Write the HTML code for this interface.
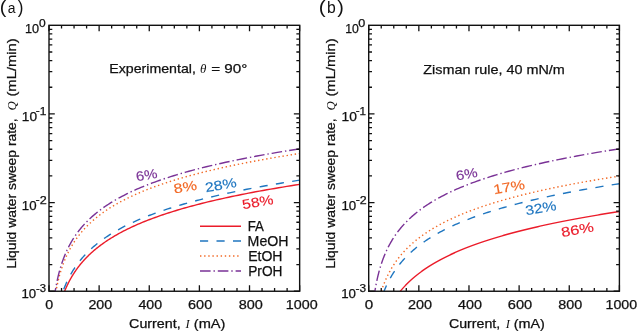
<!DOCTYPE html>
<html><head><meta charset="utf-8"><style>
html,body{margin:0;padding:0;background:#fff;width:637px;height:331px;overflow:hidden}
svg{display:block;will-change:transform}
text{font-family:"Liberation Sans", sans-serif}
</style></head><body>
<svg width="637" height="331" viewBox="0 0 637 331">
<rect width="637" height="331" fill="#fff"/>
<clipPath id="c0"><rect x="49.0" y="25.3" width="250.65" height="265.95"/></clipPath>
<path d="M64.15,292.42L64.42,291.75L64.69,291.07L64.97,290.40L65.25,289.72L65.54,289.05L65.83,288.37L66.13,287.70L66.43,287.02L66.74,286.35L67.05,285.67L67.37,285.00L67.70,284.32L68.03,283.64L68.36,282.97L68.71,282.29L69.06,281.62L69.41,280.94L69.77,280.27L70.14,279.59L70.51,278.92L70.89,278.24L71.28,277.57L71.68,276.89L72.08,276.22L72.48,275.54L72.90,274.87L73.32,274.19L73.75,273.52L74.19,272.84L74.64,272.17L75.09,271.49L75.55,270.82L76.02,270.14L76.50,269.46L76.99,268.79L77.48,268.11L77.99,267.44L78.50,266.76L79.02,266.09L79.55,265.41L80.09,264.74L80.64,264.06L81.20,263.39L81.77,262.71L82.35,262.04L82.94,261.36L83.54,260.69L84.15,260.01L84.78,259.34L85.41,258.66L86.05,257.99L86.71,257.31L87.38,256.64L88.06,255.96L88.75,255.28L89.45,254.61L90.16,253.93L90.89,253.26L91.63,252.58L92.39,251.91L93.16,251.23L93.94,250.56L94.73,249.88L95.54,249.21L96.37,248.53L97.20,247.86L98.06,247.18L98.92,246.51L99.81,245.83L100.71,245.16L101.62,244.48L102.55,243.81L103.50,243.13L104.46,242.46L105.45,241.78L106.44,241.10L107.46,240.43L108.50,239.75L109.55,239.08L110.62,238.40L111.71,237.73L112.82,237.05L113.95,236.38L115.10,235.70L116.27,235.03L117.46,234.35L118.67,233.68L119.90,233.00L121.16,232.33L122.43,231.65L123.73,230.98L125.05,230.30L126.40,229.63L127.77,228.95L129.16,228.28L130.58,227.60L132.02,226.92L133.49,226.25L134.99,225.57L136.51,224.90L138.06,224.22L139.63,223.55L141.24,222.87L142.87,222.20L144.53,221.52L146.22,220.85L147.94,220.17L149.69,219.50L151.47,218.82L153.29,218.15L155.13,217.47L157.01,216.80L158.92,216.12L160.86,215.45L162.84,214.77L164.86,214.10L166.91,213.42L168.99,212.74L171.12,212.07L173.28,211.39L175.48,210.72L177.71,210.04L179.99,209.37L182.31,208.69L184.67,208.02L187.07,207.34L189.51,206.67L192.00,205.99L194.53,205.32L197.10,204.64L199.72,203.97L202.39,203.29L205.10,202.62L207.87,201.94L210.68,201.27L213.54,200.59L216.45,199.92L219.41,199.24L222.43,198.56L225.49,197.89L228.62,197.21L231.79,196.54L235.03,195.86L238.32,195.19L241.67,194.51L245.08,193.84L248.55,193.16L252.08,192.49L255.67,191.81L259.33,191.14L263.05,190.46L266.84,189.79L270.69,189.11L274.61,188.44L278.61,187.76L282.67,187.09L286.80,186.41L291.01,185.74L295.29,185.06L299.65,184.38" fill="none" stroke="#eb1c2a" stroke-width="1.4" clip-path="url(#c0)"/>
<path d="M62.58,292.42L62.83,291.72L63.09,291.02L63.35,290.32L63.61,289.62L63.88,288.92L64.15,288.21L64.43,287.51L64.71,286.81L65.00,286.11L65.30,285.41L65.60,284.71L65.90,284.00L66.21,283.30L66.53,282.60L66.85,281.90L67.18,281.20L67.51,280.50L67.85,279.80L68.20,279.09L68.55,278.39L68.91,277.69L69.28,276.99L69.65,276.29L70.03,275.59L70.42,274.89L70.81,274.18L71.21,273.48L71.62,272.78L72.04,272.08L72.46,271.38L72.89,270.68L73.33,269.98L73.78,269.27L74.24,268.57L74.70,267.87L75.17,267.17L75.65,266.47L76.14,265.77L76.64,265.06L77.15,264.36L77.67,263.66L78.20,262.96L78.73,262.26L79.28,261.56L79.84,260.86L80.40,260.15L80.98,259.45L81.57,258.75L82.17,258.05L82.78,257.35L83.40,256.65L84.03,255.95L84.68,255.24L85.33,254.54L86.00,253.84L86.68,253.14L87.37,252.44L88.08,251.74L88.80,251.03L89.53,250.33L90.27,249.63L91.03,248.93L91.81,248.23L92.59,247.53L93.39,246.83L94.21,246.12L95.04,245.42L95.89,244.72L96.75,244.02L97.63,243.32L98.52,242.62L99.43,241.92L100.36,241.21L101.31,240.51L102.27,239.81L103.25,239.11L104.24,238.41L105.26,237.71L106.29,237.01L107.35,236.30L108.42,235.60L109.51,234.90L110.63,234.20L111.76,233.50L112.91,232.80L114.09,232.09L115.29,231.39L116.50,230.69L117.75,229.99L119.01,229.29L120.30,228.59L121.61,227.89L122.94,227.18L124.30,226.48L125.69,225.78L127.10,225.08L128.53,224.38L130.00,223.68L131.48,222.98L133.00,222.27L134.55,221.57L136.12,220.87L137.72,220.17L139.35,219.47L141.01,218.77L142.71,218.06L144.43,217.36L146.18,216.66L147.97,215.96L149.79,215.26L151.64,214.56L153.53,213.86L155.45,213.15L157.41,212.45L159.40,211.75L161.43,211.05L163.50,210.35L165.61,209.65L167.75,208.95L169.93,208.24L172.16,207.54L174.42,206.84L176.73,206.14L179.08,205.44L181.47,204.74L183.90,204.04L186.38,203.33L188.91,202.63L191.48,201.93L194.10,201.23L196.77,200.53L199.49,199.83L202.26,199.12L205.07,198.42L207.94,197.72L210.87,197.02L213.84,196.32L216.87,195.62L219.96,194.92L223.10,194.21L226.30,193.51L229.56,192.81L232.89,192.11L236.27,191.41L239.71,190.71L243.22,190.01L246.79,189.30L250.42,188.60L254.13,187.90L257.90,187.20L261.74,186.50L265.65,185.80L269.64,185.09L273.69,184.39L277.82,183.69L282.03,182.99L286.32,182.29L290.68,181.59L295.12,180.89L299.65,180.18" fill="none" stroke="#1f76c0" stroke-width="1.4" stroke-dasharray="8.15 8.35" stroke-dashoffset="13.25" clip-path="url(#c0)"/>
<path d="M55.79,292.42L55.95,291.55L56.10,290.69L56.27,289.82L56.43,288.95L56.60,288.08L56.78,287.21L56.95,286.34L57.13,285.48L57.32,284.61L57.51,283.74L57.70,282.87L57.90,282.00L58.11,281.14L58.31,280.27L58.53,279.40L58.74,278.53L58.96,277.66L59.19,276.79L59.42,275.93L59.66,275.06L59.91,274.19L60.15,273.32L60.41,272.45L60.67,271.58L60.93,270.72L61.21,269.85L61.49,268.98L61.77,268.11L62.06,267.24L62.36,266.37L62.66,265.51L62.98,264.64L63.29,263.77L63.62,262.90L63.95,262.03L64.30,261.16L64.64,260.30L65.00,259.43L65.37,258.56L65.74,257.69L66.12,256.82L66.51,255.96L66.91,255.09L67.32,254.22L67.74,253.35L68.16,252.48L68.60,251.61L69.05,250.75L69.51,249.88L69.97,249.01L70.45,248.14L70.94,247.27L71.44,246.40L71.95,245.54L72.48,244.67L73.01,243.80L73.56,242.93L74.12,242.06L74.69,241.19L75.28,240.33L75.88,239.46L76.49,238.59L77.12,237.72L77.76,236.85L78.42,235.98L79.09,235.12L79.77,234.25L80.48,233.38L81.19,232.51L81.93,231.64L82.68,230.77L83.45,229.91L84.23,229.04L85.04,228.17L85.86,227.30L86.70,226.43L87.56,225.57L88.44,224.70L89.34,223.83L90.26,222.96L91.20,222.09L92.16,221.22L93.15,220.36L94.15,219.49L95.18,218.62L96.24,217.75L97.31,216.88L98.42,216.01L99.54,215.15L100.70,214.28L101.88,213.41L103.08,212.54L104.31,211.67L105.58,210.80L106.87,209.94L108.19,209.07L109.54,208.20L110.92,207.33L112.33,206.46L113.77,205.59L115.25,204.73L116.76,203.86L118.31,202.99L119.89,202.12L121.51,201.25L123.16,200.39L124.85,199.52L126.58,198.65L128.35,197.78L130.16,196.91L132.01,196.04L133.91,195.18L135.84,194.31L137.82,193.44L139.85,192.57L141.92,191.70L144.04,190.83L146.21,189.97L148.42,189.10L150.69,188.23L153.01,187.36L155.38,186.49L157.81,185.62L160.29,184.76L162.83,183.89L165.43,183.02L168.08,182.15L170.80,181.28L173.58,180.41L176.42,179.55L179.33,178.68L182.30,177.81L185.34,176.94L188.45,176.07L191.63,175.21L194.88,174.34L198.21,173.47L201.61,172.60L205.09,171.73L208.65,170.86L212.30,170.00L216.02,169.13L219.83,168.26L223.73,167.39L227.71,166.52L231.79,165.65L235.96,164.79L240.22,163.92L244.58,163.05L249.04,162.18L253.61,161.31L258.27,160.44L263.05,159.58L267.93,158.71L272.92,157.84L278.03,156.97L283.25,156.10L288.60,155.23L294.06,154.37L299.65,153.50" fill="none" stroke="#f26824" stroke-width="1.4" stroke-dasharray="1.4 2.73" stroke-dashoffset="0.0" clip-path="url(#c0)"/>
<path d="M55.02,292.42L55.16,291.53L55.31,290.63L55.45,289.73L55.61,288.83L55.76,287.94L55.92,287.04L56.08,286.14L56.25,285.24L56.42,284.35L56.60,283.45L56.78,282.55L56.96,281.65L57.15,280.76L57.34,279.86L57.54,278.96L57.74,278.06L57.94,277.17L58.16,276.27L58.37,275.37L58.59,274.48L58.82,273.58L59.05,272.68L59.29,271.78L59.53,270.89L59.78,269.99L60.03,269.09L60.29,268.19L60.56,267.30L60.83,266.40L61.11,265.50L61.40,264.60L61.69,263.71L61.99,262.81L62.29,261.91L62.61,261.01L62.93,260.12L63.26,259.22L63.59,258.32L63.94,257.43L64.29,256.53L64.65,255.63L65.02,254.73L65.40,253.84L65.78,252.94L66.18,252.04L66.58,251.14L67.00,250.25L67.42,249.35L67.86,248.45L68.30,247.55L68.76,246.66L69.22,245.76L69.70,244.86L70.19,243.96L70.69,243.07L71.20,242.17L71.72,241.27L72.26,240.38L72.81,239.48L73.37,238.58L73.94,237.68L74.53,236.79L75.13,235.89L75.75,234.99L76.38,234.09L77.03,233.20L77.69,232.30L78.36,231.40L79.05,230.50L79.76,229.61L80.49,228.71L81.23,227.81L81.99,226.92L82.77,226.02L83.57,225.12L84.38,224.22L85.22,223.33L86.07,222.43L86.94,221.53L87.84,220.63L88.75,219.74L89.69,218.84L90.65,217.94L91.63,217.04L92.64,216.15L93.67,215.25L94.72,214.35L95.80,213.45L96.90,212.56L98.03,211.66L99.19,210.76L100.37,209.87L101.58,208.97L102.82,208.07L104.09,207.17L105.39,206.28L106.72,205.38L108.08,204.48L109.48,203.58L110.90,202.69L112.36,201.79L113.86,200.89L115.39,199.99L116.95,199.10L118.55,198.20L120.19,197.30L121.87,196.40L123.59,195.51L125.35,194.61L127.15,193.71L128.99,192.82L130.88,191.92L132.81,191.02L134.79,190.12L136.81,189.23L138.88,188.33L141.00,187.43L143.17,186.53L145.39,185.64L147.67,184.74L149.99,183.84L152.37,182.94L154.81,182.05L157.31,181.15L159.86,180.25L162.48,179.35L165.15,178.46L167.89,177.56L170.69,176.66L173.56,175.77L176.50,174.87L179.51,173.97L182.59,173.07L185.74,172.18L188.96,171.28L192.26,170.38L195.64,169.48L199.10,168.59L202.64,167.69L206.26,166.79L209.97,165.89L213.76,165.00L217.65,164.10L221.63,163.20L225.70,162.30L229.86,161.41L234.13,160.51L238.49,159.61L242.96,158.72L247.54,157.82L252.22,156.92L257.01,156.02L261.92,155.13L266.94,154.23L272.08,153.33L277.34,152.43L282.72,151.54L288.23,150.64L293.88,149.74L299.65,148.84" fill="none" stroke="#7a3296" stroke-width="1.4" stroke-dasharray="10.6 2.9 1.4 2.9" stroke-dashoffset="6.09" clip-path="url(#c0)"/>
<path d="M49.00,291.25v-6.0M49.00,25.3v6.0M61.53,291.25v-3.3M61.53,25.3v3.3M74.06,291.25v-3.3M74.06,25.3v3.3M86.60,291.25v-3.3M86.60,25.3v3.3M99.13,291.25v-6.0M99.13,25.3v6.0M111.66,291.25v-3.3M111.66,25.3v3.3M124.19,291.25v-3.3M124.19,25.3v3.3M136.73,291.25v-3.3M136.73,25.3v3.3M149.26,291.25v-6.0M149.26,25.3v6.0M161.79,291.25v-3.3M161.79,25.3v3.3M174.32,291.25v-3.3M174.32,25.3v3.3M186.86,291.25v-3.3M186.86,25.3v3.3M199.39,291.25v-6.0M199.39,25.3v6.0M211.92,291.25v-3.3M211.92,25.3v3.3M224.45,291.25v-3.3M224.45,25.3v3.3M236.99,291.25v-3.3M236.99,25.3v3.3M249.52,291.25v-6.0M249.52,25.3v6.0M262.05,291.25v-3.3M262.05,25.3v3.3M274.58,291.25v-3.3M274.58,25.3v3.3M287.12,291.25v-3.3M287.12,25.3v3.3M299.65,291.25v-6.0M299.65,25.3v6.0M49.0,113.95h5.8M299.65,113.95h-5.8M49.0,87.26h3.3M299.65,87.26h-3.3M49.0,71.65h3.3M299.65,71.65h-3.3M49.0,60.58h3.3M299.65,60.58h-3.3M49.0,51.99h3.3M299.65,51.99h-3.3M49.0,44.97h3.3M299.65,44.97h-3.3M49.0,39.03h3.3M299.65,39.03h-3.3M49.0,33.89h3.3M299.65,33.89h-3.3M49.0,29.36h3.3M299.65,29.36h-3.3M49.0,202.60h5.8M299.65,202.60h-5.8M49.0,175.91h3.3M299.65,175.91h-3.3M49.0,160.30h3.3M299.65,160.30h-3.3M49.0,149.23h3.3M299.65,149.23h-3.3M49.0,140.64h3.3M299.65,140.64h-3.3M49.0,133.62h3.3M299.65,133.62h-3.3M49.0,127.68h3.3M299.65,127.68h-3.3M49.0,122.54h3.3M299.65,122.54h-3.3M49.0,118.01h3.3M299.65,118.01h-3.3M49.0,291.25h5.8M299.65,291.25h-5.8M49.0,264.56h3.3M299.65,264.56h-3.3M49.0,248.95h3.3M299.65,248.95h-3.3M49.0,237.88h3.3M299.65,237.88h-3.3M49.0,229.29h3.3M299.65,229.29h-3.3M49.0,222.27h3.3M299.65,222.27h-3.3M49.0,216.33h3.3M299.65,216.33h-3.3M49.0,211.19h3.3M299.65,211.19h-3.3M49.0,206.66h3.3M299.65,206.66h-3.3" stroke="#111" stroke-width="1.3" fill="none"/>
<rect x="49.0" y="25.3" width="250.65" height="265.95" fill="none" stroke="#111" stroke-width="1.4"/>
<clipPath id="c1"><rect x="368.7" y="25.3" width="250.70" height="265.95"/></clipPath>
<path d="M399.37,292.42L399.77,291.92L400.18,291.41L400.60,290.91L401.02,290.40L401.45,289.89L401.88,289.39L402.32,288.88L402.76,288.38L403.21,287.87L403.67,287.37L404.13,286.86L404.60,286.36L405.07,285.85L405.56,285.34L406.04,284.84L406.54,284.33L407.04,283.83L407.54,283.32L408.06,282.82L408.58,282.31L409.10,281.81L409.64,281.30L410.18,280.79L410.73,280.29L411.28,279.78L411.85,279.28L412.42,278.77L412.99,278.27L413.58,277.76L414.17,277.26L414.77,276.75L415.38,276.24L416.00,275.74L416.62,275.23L417.26,274.73L417.90,274.22L418.55,273.72L419.21,273.21L419.88,272.70L420.55,272.20L421.24,271.69L421.93,271.19L422.64,270.68L423.35,270.18L424.07,269.67L424.80,269.17L425.55,268.66L426.30,268.15L427.06,267.65L427.83,267.14L428.61,266.64L429.40,266.13L430.21,265.63L431.02,265.12L431.84,264.62L432.68,264.11L433.52,263.60L434.38,263.10L435.25,262.59L436.13,262.09L437.02,261.58L437.92,261.08L438.84,260.57L439.76,260.07L440.70,259.56L441.66,259.05L442.62,258.55L443.60,258.04L444.59,257.54L445.59,257.03L446.61,256.53L447.64,256.02L448.68,255.52L449.74,255.01L450.81,254.50L451.89,254.00L452.99,253.49L454.11,252.99L455.24,252.48L456.38,251.98L457.54,251.47L458.71,250.96L459.90,250.46L461.11,249.95L462.33,249.45L463.57,248.94L464.82,248.44L466.09,247.93L467.38,247.43L468.69,246.92L470.01,246.41L471.35,245.91L472.70,245.40L474.08,244.90L475.47,244.39L476.88,243.89L478.31,243.38L479.76,242.88L481.23,242.37L482.72,241.86L484.22,241.36L485.75,240.85L487.30,240.35L488.87,239.84L490.45,239.34L492.06,238.83L493.69,238.33L495.35,237.82L497.02,237.31L498.72,236.81L500.43,236.30L502.18,235.80L503.94,235.29L505.73,234.79L507.54,234.28L509.37,233.78L511.23,233.27L513.12,232.76L515.03,232.26L516.96,231.75L518.92,231.25L520.91,230.74L522.92,230.24L524.96,229.73L527.02,229.22L529.12,228.72L531.24,228.21L533.38,227.71L535.56,227.20L537.77,226.70L540.00,226.19L542.27,225.69L544.56,225.18L546.89,224.67L549.24,224.17L551.63,223.66L554.05,223.16L556.50,222.65L558.98,222.15L561.49,221.64L564.04,221.14L566.62,220.63L569.24,220.12L571.89,219.62L574.58,219.11L577.30,218.61L580.06,218.10L582.85,217.60L585.68,217.09L588.55,216.59L591.45,216.08L594.40,215.57L597.38,215.07L600.41,214.56L603.47,214.06L606.57,213.55L609.72,213.05L612.90,212.54L616.13,212.04L619.40,211.53" fill="none" stroke="#eb1c2a" stroke-width="1.4" clip-path="url(#c1)"/>
<path d="M383.58,292.42L383.85,291.74L384.12,291.06L384.39,290.38L384.67,289.70L384.96,289.02L385.25,288.35L385.54,287.67L385.84,286.99L386.14,286.31L386.46,285.63L386.77,284.95L387.09,284.27L387.42,283.59L387.75,282.91L388.09,282.23L388.44,281.55L388.79,280.87L389.15,280.19L389.51,279.51L389.88,278.83L390.26,278.15L390.64,277.47L391.03,276.79L391.43,276.11L391.84,275.43L392.25,274.75L392.67,274.07L393.10,273.40L393.53,272.72L393.97,272.04L394.42,271.36L394.88,270.68L395.35,270.00L395.82,269.32L396.30,268.64L396.80,267.96L397.30,267.28L397.80,266.60L398.32,265.92L398.85,265.24L399.39,264.56L399.93,263.88L400.49,263.20L401.06,262.52L401.63,261.84L402.22,261.16L402.82,260.48L403.42,259.80L404.04,259.12L404.67,258.45L405.31,257.77L405.96,257.09L406.63,256.41L407.30,255.73L407.99,255.05L408.69,254.37L409.40,253.69L410.13,253.01L410.86,252.33L411.61,251.65L412.38,250.97L413.16,250.29L413.95,249.61L414.75,248.93L415.57,248.25L416.41,247.57L417.26,246.89L418.12,246.21L419.00,245.53L419.90,244.85L420.81,244.17L421.74,243.50L422.68,242.82L423.64,242.14L424.62,241.46L425.62,240.78L426.63,240.10L427.66,239.42L428.71,238.74L429.78,238.06L430.87,237.38L431.98,236.70L433.10,236.02L434.25,235.34L435.42,234.66L436.61,233.98L437.82,233.30L439.05,232.62L440.30,231.94L441.57,231.26L442.87,230.58L444.19,229.90L445.54,229.22L446.90,228.55L448.30,227.87L449.71,227.19L451.16,226.51L452.63,225.83L454.12,225.15L455.64,224.47L457.19,223.79L458.76,223.11L460.37,222.43L462.00,221.75L463.66,221.07L465.35,220.39L467.07,219.71L468.83,219.03L470.61,218.35L472.42,217.67L474.27,216.99L476.15,216.31L478.06,215.63L480.01,214.95L481.99,214.27L484.01,213.60L486.06,212.92L488.15,212.24L490.28,211.56L492.45,210.88L494.65,210.20L496.89,209.52L499.18,208.84L501.50,208.16L503.86,207.48L506.27,206.80L508.72,206.12L511.21,205.44L513.75,204.76L516.33,204.08L518.96,203.40L521.64,202.72L524.36,202.04L527.14,201.36L529.96,200.68L532.83,200.00L535.75,199.32L538.73,198.65L541.75,197.97L544.83,197.29L547.97,196.61L551.16,195.93L554.41,195.25L557.72,194.57L561.09,193.89L564.51,193.21L568.00,192.53L571.55,191.85L575.16,191.17L578.84,190.49L582.58,189.81L586.39,189.13L590.26,188.45L594.21,187.77L598.22,187.09L602.31,186.41L606.47,185.73L610.70,185.05L615.01,184.37L619.40,183.70" fill="none" stroke="#1f76c0" stroke-width="1.4" stroke-dasharray="8.15 8.35" stroke-dashoffset="0.7" clip-path="url(#c1)"/>
<path d="M380.92,292.42L381.15,291.70L381.39,290.97L381.63,290.24L381.88,289.51L382.13,288.79L382.39,288.06L382.65,287.33L382.91,286.61L383.18,285.88L383.46,285.15L383.74,284.43L384.03,283.70L384.32,282.97L384.62,282.25L384.92,281.52L385.23,280.79L385.55,280.06L385.87,279.34L386.19,278.61L386.53,277.88L386.87,277.16L387.21,276.43L387.57,275.70L387.93,274.98L388.29,274.25L388.67,273.52L389.05,272.79L389.43,272.07L389.83,271.34L390.23,270.61L390.64,269.89L391.06,269.16L391.49,268.43L391.92,267.71L392.36,266.98L392.82,266.25L393.27,265.52L393.74,264.80L394.22,264.07L394.71,263.34L395.20,262.62L395.71,261.89L396.22,261.16L396.75,260.44L397.28,259.71L397.83,258.98L398.38,258.25L398.95,257.53L399.52,256.80L400.11,256.07L400.71,255.35L401.32,254.62L401.94,253.89L402.58,253.17L403.22,252.44L403.88,251.71L404.55,250.99L405.23,250.26L405.93,249.53L406.64,248.80L407.36,248.08L408.10,247.35L408.85,246.62L409.62,245.90L410.40,245.17L411.19,244.44L412.00,243.72L412.83,242.99L413.67,242.26L414.53,241.53L415.40,240.81L416.29,240.08L417.20,239.35L418.12,238.63L419.06,237.90L420.02,237.17L421.00,236.45L422.00,235.72L423.01,234.99L424.05,234.26L425.10,233.54L426.18,232.81L427.28,232.08L428.39,231.36L429.53,230.63L430.69,229.90L431.87,229.18L433.08,228.45L434.30,227.72L435.55,226.99L436.83,226.27L438.13,225.54L439.45,224.81L440.80,224.09L442.17,223.36L443.57,222.63L445.00,221.91L446.45,221.18L447.94,220.45L449.45,219.73L450.99,219.00L452.55,218.27L454.15,217.54L455.78,216.82L457.44,216.09L459.13,215.36L460.86,214.64L462.61,213.91L464.40,213.18L466.23,212.46L468.09,211.73L469.98,211.00L471.91,210.27L473.88,209.55L475.88,208.82L477.93,208.09L480.01,207.37L482.13,206.64L484.29,205.91L486.50,205.19L488.74,204.46L491.03,203.73L493.36,203.00L495.74,202.28L498.16,201.55L500.63,200.82L503.14,200.10L505.71,199.37L508.32,198.64L510.98,197.92L513.69,197.19L516.45,196.46L519.27,195.74L522.14,195.01L525.07,194.28L528.05,193.55L531.08,192.83L534.18,192.10L537.33,191.37L540.55,190.65L543.82,189.92L547.16,189.19L550.56,188.47L554.03,187.74L557.56,187.01L561.16,186.28L564.83,185.56L568.57,184.83L572.38,184.10L576.26,183.38L580.22,182.65L584.25,181.92L588.36,181.20L592.55,180.47L596.81,179.74L601.16,179.01L605.59,178.29L610.11,177.56L614.71,176.83L619.40,176.11" fill="none" stroke="#f26824" stroke-width="1.4" stroke-dasharray="1.4 2.73" stroke-dashoffset="2.847" clip-path="url(#c1)"/>
<path d="M374.72,292.42L374.86,291.53L375.01,290.63L375.16,289.73L375.31,288.83L375.46,287.94L375.62,287.04L375.79,286.14L375.95,285.24L376.12,284.35L376.30,283.45L376.48,282.55L376.66,281.65L376.85,280.76L377.04,279.86L377.24,278.96L377.44,278.06L377.65,277.17L377.86,276.27L378.07,275.37L378.29,274.48L378.52,273.58L378.75,272.68L378.99,271.78L379.23,270.89L379.48,269.99L379.73,269.09L379.99,268.19L380.26,267.30L380.53,266.40L380.81,265.50L381.10,264.60L381.39,263.71L381.69,262.81L382.00,261.91L382.31,261.01L382.63,260.12L382.96,259.22L383.29,258.32L383.64,257.43L383.99,256.53L384.35,255.63L384.72,254.73L385.10,253.84L385.49,252.94L385.88,252.04L386.29,251.14L386.70,250.25L387.13,249.35L387.56,248.45L388.01,247.55L388.46,246.66L388.93,245.76L389.40,244.86L389.89,243.96L390.39,243.07L390.90,242.17L391.43,241.27L391.96,240.38L392.51,239.48L393.07,238.58L393.65,237.68L394.24,236.79L394.84,235.89L395.45,234.99L396.08,234.09L396.73,233.20L397.39,232.30L398.07,231.40L398.76,230.50L399.47,229.61L400.20,228.71L400.94,227.81L401.70,226.92L402.48,226.02L403.27,225.12L404.09,224.22L404.92,223.33L405.78,222.43L406.65,221.53L407.55,220.63L408.46,219.74L409.40,218.84L410.36,217.94L411.34,217.04L412.35,216.15L413.38,215.25L414.43,214.35L415.51,213.45L416.61,212.56L417.74,211.66L418.90,210.76L420.08,209.87L421.29,208.97L422.54,208.07L423.80,207.17L425.10,206.28L426.43,205.38L427.80,204.48L429.19,203.58L430.62,202.69L432.08,201.79L433.57,200.89L435.10,199.99L436.67,199.10L438.27,198.20L439.91,197.30L441.59,196.40L443.31,195.51L445.07,194.61L446.87,193.71L448.71,192.82L450.60,191.92L452.53,191.02L454.51,190.12L456.53,189.23L458.60,188.33L460.72,187.43L462.89,186.53L465.11,185.64L467.39,184.74L469.71,183.84L472.09,182.94L474.53,182.05L477.03,181.15L479.58,180.25L482.20,179.35L484.87,178.46L487.61,177.56L490.42,176.66L493.29,175.77L496.23,174.87L499.23,173.97L502.31,173.07L505.46,172.18L508.69,171.28L511.99,170.38L515.37,169.48L518.83,168.59L522.37,167.69L525.99,166.79L529.70,165.89L533.50,165.00L537.38,164.10L541.36,163.20L545.43,162.30L549.60,161.41L553.87,160.51L558.23,159.61L562.70,158.72L567.28,157.82L571.96,156.92L576.75,156.02L581.66,155.13L586.68,154.23L591.82,153.33L597.08,152.43L602.47,151.54L607.98,150.64L613.62,149.74L619.40,148.84" fill="none" stroke="#7a3296" stroke-width="1.4" stroke-dasharray="10.6 2.9 1.4 2.9" stroke-dashoffset="6.09" clip-path="url(#c1)"/>
<path d="M368.70,291.25v-6.0M368.70,25.3v6.0M381.24,291.25v-3.3M381.24,25.3v3.3M393.77,291.25v-3.3M393.77,25.3v3.3M406.31,291.25v-3.3M406.31,25.3v3.3M418.84,291.25v-6.0M418.84,25.3v6.0M431.38,291.25v-3.3M431.38,25.3v3.3M443.91,291.25v-3.3M443.91,25.3v3.3M456.44,291.25v-3.3M456.44,25.3v3.3M468.98,291.25v-6.0M468.98,25.3v6.0M481.51,291.25v-3.3M481.51,25.3v3.3M494.05,291.25v-3.3M494.05,25.3v3.3M506.58,291.25v-3.3M506.58,25.3v3.3M519.12,291.25v-6.0M519.12,25.3v6.0M531.65,291.25v-3.3M531.65,25.3v3.3M544.19,291.25v-3.3M544.19,25.3v3.3M556.72,291.25v-3.3M556.72,25.3v3.3M569.26,291.25v-6.0M569.26,25.3v6.0M581.79,291.25v-3.3M581.79,25.3v3.3M594.33,291.25v-3.3M594.33,25.3v3.3M606.87,291.25v-3.3M606.87,25.3v3.3M619.40,291.25v-6.0M619.40,25.3v6.0M368.7,113.95h5.8M619.4,113.95h-5.8M368.7,87.26h3.3M619.4,87.26h-3.3M368.7,71.65h3.3M619.4,71.65h-3.3M368.7,60.58h3.3M619.4,60.58h-3.3M368.7,51.99h3.3M619.4,51.99h-3.3M368.7,44.97h3.3M619.4,44.97h-3.3M368.7,39.03h3.3M619.4,39.03h-3.3M368.7,33.89h3.3M619.4,33.89h-3.3M368.7,29.36h3.3M619.4,29.36h-3.3M368.7,202.60h5.8M619.4,202.60h-5.8M368.7,175.91h3.3M619.4,175.91h-3.3M368.7,160.30h3.3M619.4,160.30h-3.3M368.7,149.23h3.3M619.4,149.23h-3.3M368.7,140.64h3.3M619.4,140.64h-3.3M368.7,133.62h3.3M619.4,133.62h-3.3M368.7,127.68h3.3M619.4,127.68h-3.3M368.7,122.54h3.3M619.4,122.54h-3.3M368.7,118.01h3.3M619.4,118.01h-3.3M368.7,291.25h5.8M619.4,291.25h-5.8M368.7,264.56h3.3M619.4,264.56h-3.3M368.7,248.95h3.3M619.4,248.95h-3.3M368.7,237.88h3.3M619.4,237.88h-3.3M368.7,229.29h3.3M619.4,229.29h-3.3M368.7,222.27h3.3M619.4,222.27h-3.3M368.7,216.33h3.3M619.4,216.33h-3.3M368.7,211.19h3.3M619.4,211.19h-3.3M368.7,206.66h3.3M619.4,206.66h-3.3" stroke="#111" stroke-width="1.3" fill="none"/>
<rect x="368.7" y="25.3" width="250.70" height="265.95" fill="none" stroke="#111" stroke-width="1.4"/>
<path d="M200,226.3H241" stroke="#eb1c2a" stroke-width="1.5" fill="none"/>
<path d="M200,241.0H241" stroke="#1f76c0" stroke-width="1.5" stroke-dasharray="8.15 8.35" fill="none"/>
<path d="M200,256.0H241" stroke="#f26824" stroke-width="1.5" stroke-dasharray="1.4 2.73" fill="none"/>
<path d="M200,270.9H241" stroke="#7a3296" stroke-width="1.5" stroke-dasharray="10.6 2.9 1.4 2.9" fill="none"/>
<text x="-0.247" y="13.200" font-size="17.600" fill="#111" textLength="6.586" lengthAdjust="spacingAndGlyphs">(</text>
<text x="7.775" y="13.300" font-size="15.500" fill="#111" textLength="7.758" lengthAdjust="spacingAndGlyphs">a</text>
<text x="17.801" y="13.200" font-size="17.600" fill="#111" textLength="5.681" lengthAdjust="spacingAndGlyphs">)</text>
<text x="318.649" y="13.300" font-size="17.600" fill="#111" textLength="6.890" lengthAdjust="spacingAndGlyphs">(</text>
<text x="327.030" y="13.300" font-size="16.000" fill="#111" textLength="8.737" lengthAdjust="spacingAndGlyphs">b</text>
<text x="337.327" y="13.300" font-size="17.600" fill="#111" textLength="6.573" lengthAdjust="spacingAndGlyphs">)</text>
<text x="109.321" y="73.400" font-size="13.000" fill="#111" stroke="#111" stroke-width="0.25" textLength="86.580" lengthAdjust="spacingAndGlyphs">Experimental,</text>
<text x="200.011" y="73.400" font-size="13.000" fill="#111" textLength="6.391" lengthAdjust="spacingAndGlyphs"><tspan font-family='"Liberation Serif", serif' font-style="italic">θ</tspan></text>
<text x="211.169" y="73.400" font-size="13.000" fill="#111" stroke="#111" stroke-width="0.25" textLength="36.150" lengthAdjust="spacingAndGlyphs">= 90°</text>
<text x="423.282" y="73.600" font-size="13.000" fill="#111" stroke="#111" stroke-width="0.25" textLength="141.565" lengthAdjust="spacingAndGlyphs">Zisman rule, 40 mN/m</text>
<text x="45.152" y="308.700" font-size="12.500" fill="#111" stroke="#111" stroke-width="0.25" textLength="7.916" lengthAdjust="spacingAndGlyphs">0</text>
<text x="88.430" y="308.700" font-size="12.500" fill="#111" stroke="#111" stroke-width="0.25" textLength="23.782" lengthAdjust="spacingAndGlyphs">200</text>
<text x="138.441" y="308.700" font-size="12.500" fill="#111" stroke="#111" stroke-width="0.25" textLength="23.648" lengthAdjust="spacingAndGlyphs">400</text>
<text x="188.055" y="308.700" font-size="12.500" fill="#111" stroke="#111" stroke-width="0.25" textLength="24.133" lengthAdjust="spacingAndGlyphs">600</text>
<text x="238.675" y="308.700" font-size="12.500" fill="#111" stroke="#111" stroke-width="0.25" textLength="24.130" lengthAdjust="spacingAndGlyphs">800</text>
<text x="285.780" y="308.700" font-size="12.500" fill="#111" stroke="#111" stroke-width="0.25" textLength="31.841" lengthAdjust="spacingAndGlyphs">1000</text>
<text x="24.980" y="32.500" font-size="12.400" fill="#111" stroke="#111" stroke-width="0.25" textLength="14.117" lengthAdjust="spacingAndGlyphs">10</text>
<text x="38.986" y="26.500" font-size="10.500" fill="#111" stroke="#111" stroke-width="0.25" textLength="6.680" lengthAdjust="spacingAndGlyphs">0</text>
<text x="21.854" y="121.150" font-size="12.400" fill="#111" stroke="#111" stroke-width="0.25" textLength="15.229" lengthAdjust="spacingAndGlyphs">10</text>
<text x="35.684" y="115.150" font-size="10.500" fill="#111" stroke="#111" stroke-width="0.25" textLength="10.576" lengthAdjust="spacingAndGlyphs"><tspan dy="-0.9">-</tspan><tspan dy="0.9">1</tspan></text>
<text x="21.832" y="209.800" font-size="12.400" fill="#111" stroke="#111" stroke-width="0.25" textLength="14.759" lengthAdjust="spacingAndGlyphs">10</text>
<text x="35.587" y="203.800" font-size="10.500" fill="#111" stroke="#111" stroke-width="0.25" textLength="11.178" lengthAdjust="spacingAndGlyphs"><tspan dy="-0.9">-</tspan><tspan dy="0.9">2</tspan></text>
<text x="21.546" y="298.450" font-size="12.400" fill="#111" stroke="#111" stroke-width="0.25" textLength="14.704" lengthAdjust="spacingAndGlyphs">10</text>
<text x="36.073" y="292.450" font-size="10.500" fill="#111" stroke="#111" stroke-width="0.25" textLength="10.024" lengthAdjust="spacingAndGlyphs"><tspan dy="-0.9">-</tspan><tspan dy="0.9">3</tspan></text>
<text x="129.103" y="327.600" font-size="12.500" fill="#111" stroke="#111" stroke-width="0.25" textLength="51.587" lengthAdjust="spacingAndGlyphs">Current,</text>
<text x="185.591" y="327.600" font-size="12.500" fill="#111" textLength="4.172" lengthAdjust="spacingAndGlyphs"><tspan font-family='"Liberation Serif", serif' font-style="italic">I</tspan></text>
<text x="193.783" y="327.600" font-size="12.500" fill="#111" stroke="#111" stroke-width="0.25" textLength="31.591" lengthAdjust="spacingAndGlyphs">(mA)</text>
<text transform="translate(15.500,268.677) rotate(-90)" font-size="12.800" fill="#111" stroke="#111" stroke-width="0.25" textLength="150.331" lengthAdjust="spacingAndGlyphs">Liquid water sweep rate,</text>
<text transform="translate(15.500,110.517) rotate(-90)" font-size="12.800" fill="#111" textLength="9.152" lengthAdjust="spacingAndGlyphs"><tspan font-family='"Liberation Serif", serif' font-style="italic">Q</tspan></text>
<text transform="translate(15.500,96.590) rotate(-90)" font-size="12.800" fill="#111" stroke="#111" stroke-width="0.25" textLength="58.377" lengthAdjust="spacingAndGlyphs">(mL/min)</text>
<text x="364.784" y="308.700" font-size="12.500" fill="#111" stroke="#111" stroke-width="0.25" textLength="8.434" lengthAdjust="spacingAndGlyphs">0</text>
<text x="407.922" y="308.700" font-size="12.500" fill="#111" stroke="#111" stroke-width="0.25" textLength="24.084" lengthAdjust="spacingAndGlyphs">200</text>
<text x="458.137" y="308.700" font-size="12.500" fill="#111" stroke="#111" stroke-width="0.25" textLength="23.931" lengthAdjust="spacingAndGlyphs">400</text>
<text x="507.840" y="308.700" font-size="12.500" fill="#111" stroke="#111" stroke-width="0.25" textLength="24.429" lengthAdjust="spacingAndGlyphs">600</text>
<text x="558.208" y="308.700" font-size="12.500" fill="#111" stroke="#111" stroke-width="0.25" textLength="23.950" lengthAdjust="spacingAndGlyphs">800</text>
<text x="605.514" y="308.700" font-size="12.500" fill="#111" stroke="#111" stroke-width="0.25" textLength="31.583" lengthAdjust="spacingAndGlyphs">1000</text>
<text x="345.151" y="32.500" font-size="12.400" fill="#111" stroke="#111" stroke-width="0.25" textLength="13.614" lengthAdjust="spacingAndGlyphs">10</text>
<text x="358.366" y="26.500" font-size="10.500" fill="#111" stroke="#111" stroke-width="0.25" textLength="7.008" lengthAdjust="spacingAndGlyphs">0</text>
<text x="341.530" y="121.150" font-size="12.400" fill="#111" stroke="#111" stroke-width="0.25" textLength="15.354" lengthAdjust="spacingAndGlyphs">10</text>
<text x="355.667" y="115.150" font-size="10.500" fill="#111" stroke="#111" stroke-width="0.25" textLength="10.363" lengthAdjust="spacingAndGlyphs"><tspan dy="-0.9">-</tspan><tspan dy="0.9">1</tspan></text>
<text x="341.473" y="209.800" font-size="12.400" fill="#111" stroke="#111" stroke-width="0.25" textLength="14.823" lengthAdjust="spacingAndGlyphs">10</text>
<text x="355.646" y="203.800" font-size="10.500" fill="#111" stroke="#111" stroke-width="0.25" textLength="11.033" lengthAdjust="spacingAndGlyphs"><tspan dy="-0.9">-</tspan><tspan dy="0.9">2</tspan></text>
<text x="341.144" y="298.450" font-size="12.400" fill="#111" stroke="#111" stroke-width="0.25" textLength="14.766" lengthAdjust="spacingAndGlyphs">10</text>
<text x="355.471" y="292.450" font-size="10.500" fill="#111" stroke="#111" stroke-width="0.25" textLength="10.546" lengthAdjust="spacingAndGlyphs"><tspan dy="-0.9">-</tspan><tspan dy="0.9">3</tspan></text>
<text x="448.987" y="327.600" font-size="12.500" fill="#111" stroke="#111" stroke-width="0.25" textLength="51.225" lengthAdjust="spacingAndGlyphs">Current,</text>
<text x="505.679" y="327.600" font-size="12.500" fill="#111" textLength="4.172" lengthAdjust="spacingAndGlyphs"><tspan font-family='"Liberation Serif", serif' font-style="italic">I</tspan></text>
<text x="513.669" y="327.600" font-size="12.500" fill="#111" stroke="#111" stroke-width="0.25" textLength="31.164" lengthAdjust="spacingAndGlyphs">(mA)</text>
<text transform="translate(335.200,268.677) rotate(-90)" font-size="12.800" fill="#111" stroke="#111" stroke-width="0.25" textLength="150.331" lengthAdjust="spacingAndGlyphs">Liquid water sweep rate,</text>
<text transform="translate(335.200,110.517) rotate(-90)" font-size="12.800" fill="#111" textLength="9.152" lengthAdjust="spacingAndGlyphs"><tspan font-family='"Liberation Serif", serif' font-style="italic">Q</tspan></text>
<text transform="translate(335.200,96.590) rotate(-90)" font-size="12.800" fill="#111" stroke="#111" stroke-width="0.25" textLength="58.377" lengthAdjust="spacingAndGlyphs">(mL/min)</text>
<text x="247.660" y="231.000" font-size="14.000" fill="#111" stroke="#111" stroke-width="0.25" textLength="16.168" lengthAdjust="spacingAndGlyphs">FA</text>
<text x="247.596" y="246.000" font-size="14.000" fill="#111" stroke="#111" stroke-width="0.25" textLength="40.909" lengthAdjust="spacingAndGlyphs">MeOH</text>
<text x="248.198" y="261.000" font-size="14.000" fill="#111" stroke="#111" stroke-width="0.25" textLength="34.323" lengthAdjust="spacingAndGlyphs">EtOH</text>
<text x="248.217" y="276.000" font-size="14.000" fill="#111" stroke="#111" stroke-width="0.25" textLength="34.264" lengthAdjust="spacingAndGlyphs">PrOH</text>
<text transform="translate(136.849,181.323) rotate(-10)" font-size="13.400" fill="#7a3296" stroke="#7a3296" stroke-width="0.15" textLength="21.426" lengthAdjust="spacingAndGlyphs">6%</text>
<text transform="translate(174.616,193.548) rotate(-10)" font-size="13.400" fill="#f26824" stroke="#f26824" stroke-width="0.15" textLength="23.196" lengthAdjust="spacingAndGlyphs">8%</text>
<text transform="translate(205.875,192.335) rotate(-10)" font-size="13.400" fill="#1f76c0" stroke="#1f76c0" stroke-width="0.15" textLength="31.840" lengthAdjust="spacingAndGlyphs">28%</text>
<text transform="translate(243.066,209.274) rotate(-10)" font-size="13.400" fill="#eb1c2a" stroke="#eb1c2a" stroke-width="0.15" textLength="31.370" lengthAdjust="spacingAndGlyphs">58%</text>
<text transform="translate(456.698,180.478) rotate(-10)" font-size="13.400" fill="#7a3296" stroke="#7a3296" stroke-width="0.15" textLength="21.691" lengthAdjust="spacingAndGlyphs">6%</text>
<text transform="translate(494.129,194.374) rotate(-10)" font-size="13.400" fill="#f26824" stroke="#f26824" stroke-width="0.15" textLength="31.935" lengthAdjust="spacingAndGlyphs">17%</text>
<text transform="translate(526.236,215.195) rotate(-10)" font-size="13.400" fill="#1f76c0" stroke="#1f76c0" stroke-width="0.15" textLength="31.268" lengthAdjust="spacingAndGlyphs">32%</text>
<text transform="translate(561.976,237.023) rotate(-10)" font-size="13.400" fill="#eb1c2a" stroke="#eb1c2a" stroke-width="0.15" textLength="32.900" lengthAdjust="spacingAndGlyphs">86%</text>
</svg>
</body></html>
